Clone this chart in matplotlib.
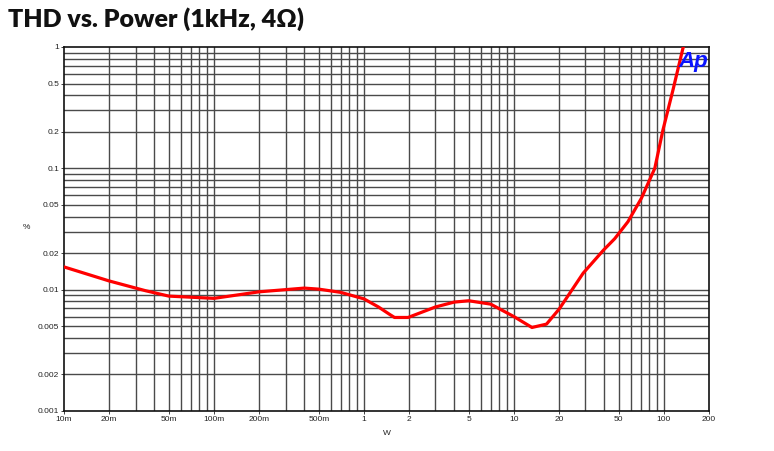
import numpy as np
import matplotlib
matplotlib.use("Agg")
import matplotlib.pyplot as plt
from matplotlib.ticker import FixedLocator, NullFormatter, NullLocator

# THD+N vs output power
power_w = [0.01, 0.02, 0.035, 0.05, 0.1, 0.2, 0.4, 0.5, 0.7, 1.0, 1.25, 1.5, 1.6,
           1.97, 3.0, 4.0, 5.0, 7.0, 10.0, 13.2, 16.5, 20.0, 29.0, 39.6, 47.0,
           57.6, 70.8, 87.0, 98.6, 115.0, 134.0, 145.0]
thd_pct = [0.0154, 0.0118, 0.0098, 0.00885, 0.00848, 0.0096, 0.0103, 0.0101,
           0.0095, 0.0084, 0.0072, 0.0062, 0.0059, 0.0059, 0.0072, 0.0079,
           0.0081, 0.0076, 0.0060, 0.00488, 0.0052, 0.0069, 0.0137, 0.0212,
           0.0263, 0.0363, 0.0566, 0.100, 0.207, 0.442, 0.975, 1.3]

x_ticks = [0.01, 0.02, 0.05, 0.1, 0.2, 0.5, 1, 2, 5, 10, 20, 50, 100, 200]
x_labels = ["10m", "20m", "50m", "100m", "200m", "500m", "1", "2", "5",
            "10", "20", "50", "100", "200"]
y_ticks = [0.001, 0.002, 0.005, 0.01, 0.02, 0.05, 0.1, 0.2, 0.5, 1]
y_labels = ["0.001", "0.002", "0.005", "0.01", "0.02", "0.05", "0.1", "0.2", "0.5", "1"]

plt.rcParams["font.family"] = ["Liberation Sans", "DejaVu Sans"]

fig = plt.figure(figsize=(7.74, 4.51), dpi=100)
ax = fig.add_axes([64 / 774, 1 - 411 / 451, 645 / 774, 364 / 451])

ax.set_xscale("log")
ax.set_yscale("log")
ax.set_xlim(0.01, 200)
ax.set_ylim(0.001, 1)

# grid at every 1..9 step in each decade
grid_x = [m * 10.0 ** e for e in range(-2, 3) for m in range(1, 10)]
grid_x = [v for v in grid_x if 0.01 < v < 200]
grid_y = [m * 10.0 ** e for e in range(-3, 0) for m in range(1, 10)]
grid_y = [v for v in grid_y if 0.001 < v < 1]
for v in grid_x:
    ax.axvline(v, color="#4a4a4a", lw=1.0, zorder=1)
for v in grid_y:
    ax.axhline(v, color="#4a4a4a", lw=1.0, zorder=1)

ax.plot(power_w, thd_pct, color="#ff0000", lw=2.3, solid_joinstyle="round",
        zorder=3, clip_on=True)

ax.xaxis.set_major_locator(FixedLocator(x_ticks))
ax.set_xticklabels(x_labels)
ax.xaxis.set_minor_locator(NullLocator())
ax.yaxis.set_major_locator(FixedLocator(y_ticks))
ax.set_yticklabels(y_labels)
ax.yaxis.set_minor_locator(NullLocator())
ax.yaxis.set_minor_formatter(NullFormatter())
ax.tick_params(axis="both", labelsize=6, colors="#222222", length=2,
               width=0.6, pad=1.5)

for s in ax.spines.values():
    s.set_color("#111111")
    s.set_linewidth(1.2)

ax.set_xlabel("W", fontsize=6, color="#222222", labelpad=5)
fig.text(26 / 774, 1 - 228 / 451, "%", fontsize=6, color="#222222",
         ha="center", va="center")

fig.text(8 / 774, 1 - 19 / 451, "THD vs. Power (1kHz, 4\u03a9)", fontsize=18,
         fontweight="heavy", family=["Lato", "DejaVu Sans"], color="#111111",
         ha="left", va="center")

ax.text(0.999, 0.99, "Ap", transform=ax.transAxes, fontsize=16,
        fontweight="bold", fontstyle="italic", color="#0a14ff",
        family=["Liberation Sans", "DejaVu Sans"],
        ha="right", va="top", zorder=4)

fig.savefig("out.png", dpi=100)
